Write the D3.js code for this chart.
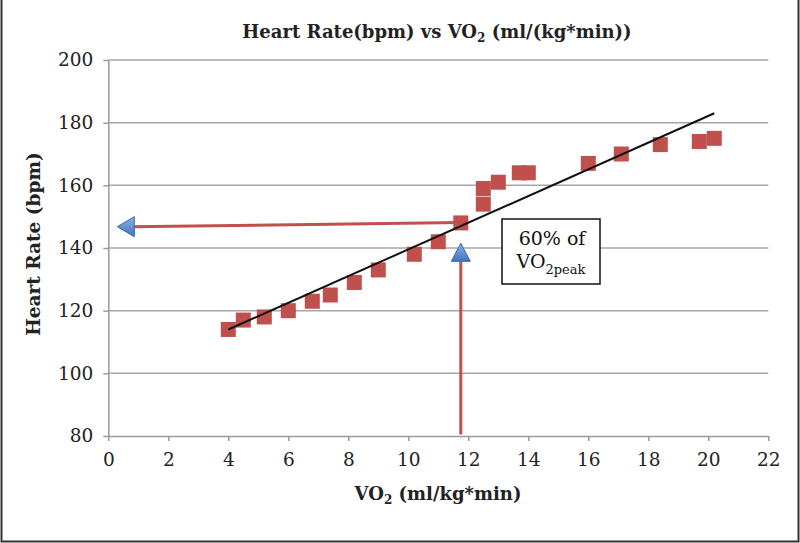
<!DOCTYPE html>
<html><head><meta charset="utf-8">
<script src="https://cdn.jsdelivr.net/npm/d3@7"></script>
<style>body{margin:0;background:#fff}svg{display:block}</style>
</head><body>
<svg id="c" width="800" height="543"></svg>
<script>
const vo2 = [4.0, 4.5, 5.2, 6.0, 6.8, 7.4, 8.2, 9.0, 10.2, 11.0, 11.75, 12.5, 12.5, 13.0, 13.7, 14.0, 16.0, 17.1, 18.4, 19.7, 20.2];
const hr  = [114, 117, 118, 120, 123, 125, 129, 133, 138, 142, 148, 154, 159, 161, 164, 164, 167, 170, 173, 174, 175];
const trendX = [4.0, 20.2];
const trendY = [114, 183];
const xTicks = [0,2,4,6,8,10,12,14,16,18,20,22];
const yTicks = [80,100,120,140,160,180,200];
const hArrowX = [11.75, 0.3];
const hArrowY = [148.1, 146.8];
const vArrowX = [11.75, 11.75];
const vArrowY = [80.5, 141.5];

const FONT = "DejaVu Serif";
const svg = d3.select("#c");
const x = d3.scaleLinear().domain([0,22]).range([108.3,768.3]);
const y = d3.scaleLinear().domain([80,200]).range([436,60]);
const red = "#c0504d";

// outer border
svg.append("path").attr("d","M1.5,0 V541.5 H798.5 V0").attr("fill","none").attr("stroke","#333").attr("stroke-width",2);

// gridlines
svg.append("g").selectAll("line").data(yTicks.filter(d=>d>80)).join("line")
  .attr("x1",x(0)).attr("x2",x(22)).attr("y1",d=>y(d)).attr("y2",d=>y(d))
  .attr("stroke","#a6a6a6").attr("stroke-width",1.5);

// axes
const xa = svg.append("g").attr("transform",`translate(0,${y(80)})`)
  .call(d3.axisBottom(x).tickValues(xTicks).tickSize(5).tickSizeOuter(0).tickPadding(12));
const ya = svg.append("g").attr("transform",`translate(${x(0)},0)`)
  .call(d3.axisLeft(y).tickValues(yTicks).tickSize(5).tickSizeOuter(0).tickPadding(10));
[xa,ya].forEach(a=>{
  a.select(".domain").attr("stroke","#9a9a9a").attr("stroke-width",1.5);
  a.selectAll(".tick line").attr("stroke","#9a9a9a").attr("stroke-width",1.5);
  a.selectAll("text").attr("font-family",FONT).attr("font-size",18.5).attr("fill","#222");
});

// points
const pts = vo2.map((v,i)=>({x:v,y:hr[i]}));
svg.append("g").selectAll("rect").data(pts).join("rect")
  .attr("x",d=>x(d.x)-7.5).attr("y",d=>y(d.y)-7.5).attr("width",15).attr("height",15)
  .attr("fill",red);

// trendline
svg.append("line").attr("x1",x(trendX[0])).attr("y1",y(trendY[0]))
  .attr("x2",x(trendX[1])).attr("y2",y(trendY[1])).attr("stroke","#111").attr("stroke-width",2);

// blue gradient
const defs = svg.append("defs");
const g = defs.append("linearGradient").attr("id","bg").attr("x1",0).attr("y1",0).attr("x2",0).attr("y2",1);
g.append("stop").attr("offset","0%").attr("stop-color","#8db3e6");
g.append("stop").attr("offset","100%").attr("stop-color","#3f74bf");

// horizontal arrow
const hx1 = x(hArrowX[0]), hy1 = y(hArrowY[0]), hx2 = x(hArrowX[1]), hy2 = y(hArrowY[1]);
svg.append("line").attr("x1",hx1).attr("y1",hy1).attr("x2",hx2+14).attr("y2",hy2)
  .attr("stroke",red).attr("stroke-width",3);
svg.append("path").attr("d",`M${hx2},${hy2} L${hx2+17},${hy2-10} L${hx2+17},${hy2+10} Z`)
  .attr("fill","url(#bg)").attr("stroke","#3a68a8").attr("stroke-width",1);

// vertical arrow
const vx = x(vArrowX[0]), vy1 = y(vArrowY[0]), vy2 = y(vArrowY[1]);
svg.append("line").attr("x1",vx).attr("y1",vy1).attr("x2",vx).attr("y2",vy2+14)
  .attr("stroke",red).attr("stroke-width",3);
svg.append("path").attr("d",`M${vx},${vy2} L${vx+9.5},${vy2+18} L${vx-9.5},${vy2+18} Z`)
  .attr("fill","url(#bg)").attr("stroke","#3a68a8").attr("stroke-width",1);

// annotation box
svg.append("rect").attr("x",502).attr("y",219).attr("width",98).attr("height",65)
  .attr("fill","#fff").attr("stroke","#111").attr("stroke-width",1.5);
svg.append("text").attr("x",552).attr("y",245).attr("text-anchor","middle")
  .attr("font-family",FONT).attr("font-size",19).attr("fill","#111").text("60% of");
const t2 = svg.append("text").attr("x",551).attr("y",268).attr("text-anchor","middle")
  .attr("font-family",FONT).attr("font-size",19).attr("fill","#111");
t2.append("tspan").text("VO");
t2.append("tspan").attr("font-size",13).attr("dy",6).text("2peak");

// title
const tt = svg.append("text").attr("x",437).attr("y",38).attr("text-anchor","middle")
  .attr("font-family",FONT).attr("font-weight","bold").attr("font-size",18).attr("fill","#222");
tt.append("tspan").text("Heart Rate(bpm) vs VO");
tt.append("tspan").attr("font-size",12).attr("dy",4).text("2");
tt.append("tspan").attr("dy",-4).text(" (ml/(kg*min))");

// x axis title
const xt = svg.append("text").attr("x",438).attr("y",500).attr("text-anchor","middle")
  .attr("font-family",FONT).attr("font-weight","bold").attr("font-size",18).attr("fill","#222");
xt.append("tspan").text("VO");
xt.append("tspan").attr("font-size",12).attr("dy",4).text("2");
xt.append("tspan").attr("dy",-4).text(" (ml/kg*min)");

// y axis title
svg.append("text").attr("transform","translate(40,244) rotate(-90)").attr("text-anchor","middle")
  .attr("font-family",FONT).attr("font-weight","bold").attr("font-size",18.5).attr("fill","#222")
  .text("Heart Rate (bpm)");
</script>
</body></html>
